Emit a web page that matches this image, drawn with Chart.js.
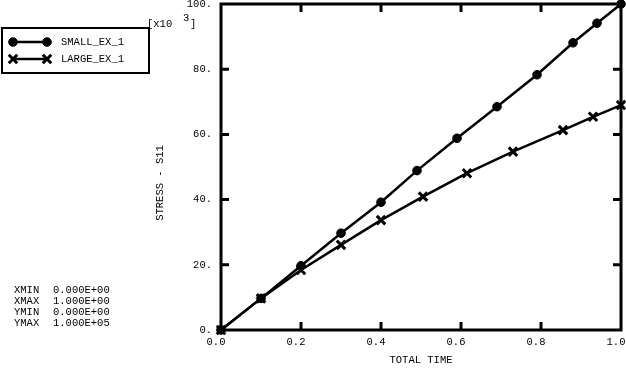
<!DOCTYPE html>
<html>
<head>
<meta charset="utf-8">
<script src="https://cdn.jsdelivr.net/npm/chart.js@4/dist/chart.umd.min.js"></script>
<style>
  body { margin: 0; background: #fff; }
  .chart { width: 626px; height: 368px; position: relative; }
</style>
</head>
<body>
<div class="chart"><canvas id="lineChart"></canvas></div>
<script>
// total time vs stress (S11)
const smallTime = [0, 0.1, 0.2, 0.3, 0.4, 0.49, 0.59, 0.69, 0.79, 0.88, 0.94, 1.0];
const smallStress = [0, 9700, 19700, 29700, 39200, 48900, 58800, 68500, 78300, 88100, 94100, 100000];
const largeTime = [0, 0.1, 0.2, 0.3, 0.4, 0.505, 0.615, 0.73, 0.855, 0.93, 1.0];
const largeStress = [0, 9700, 18400, 26100, 33700, 40900, 48100, 54700, 61300, 65400, 69000];
const xTicks = [0, 0.2, 0.4, 0.6, 0.8, 1.0];
const yTicks = [0, 20000, 40000, 60000, 80000, 100000];
const infoLines = [
  ["XMIN", "0.000E+00"],
  ["XMAX", "1.000E+00"],
  ["YMIN", "0.000E+00"],
  ["YMAX", "1.000E+05"],
];

const FAMILY = "'Liberation Mono', 'DejaVu Sans Mono', monospace";
const FONT = "10.5px " + FAMILY;

const toPoints = (xs, ys) => xs.map((x, i) => ({ x: x, y: ys[i] }));

const noPad = (s) => {
  s.paddingTop = 0;
  s.paddingBottom = 0;
  s.paddingLeft = 0;
  s.paddingRight = 0;
};

const frame = {
  id: "frame",
  beforeDatasetsDraw(chart) {
    const { ctx, chartArea: a, scales } = chart;
    ctx.save();
    ctx.strokeStyle = "#000";
    ctx.lineWidth = 3;
    ctx.strokeRect(a.left, a.top, a.right - a.left, a.bottom - a.top);
    // inward tick marks on all four sides
    const len = 8;
    xTicks.slice(1, -1).forEach((v) => {
      const px = scales.x.getPixelForValue(v);
      ctx.beginPath();
      ctx.moveTo(px, a.bottom); ctx.lineTo(px, a.bottom - len);
      ctx.moveTo(px, a.top); ctx.lineTo(px, a.top + len);
      ctx.stroke();
    });
    yTicks.slice(1, -1).forEach((v) => {
      const py = scales.y.getPixelForValue(v);
      ctx.beginPath();
      ctx.moveTo(a.left, py); ctx.lineTo(a.left + len, py);
      ctx.moveTo(a.right, py); ctx.lineTo(a.right - len, py);
      ctx.stroke();
    });
    ctx.restore();
  },
  afterDraw(chart) {
    const ctx = chart.ctx;
    ctx.save();
    ctx.fillStyle = "#000";
    ctx.strokeStyle = "#000";
    ctx.font = FONT;
    ctx.textBaseline = "middle";

    // legend box
    ctx.lineWidth = 2;
    ctx.strokeRect(2, 28, 147, 45);
    chart.data.datasets.forEach((ds, i) => {
      const y = 42 + i * 17;
      ctx.lineWidth = 2.5;
      ctx.beginPath();
      ctx.moveTo(13, y); ctx.lineTo(47, y);
      ctx.stroke();
      const opts = {
        pointStyle: ds.pointStyle,
        radius: ds.pointRadius,
        borderWidth: ds.pointBorderWidth,
      };
      ctx.fillStyle = "#000";
      ctx.lineWidth = ds.pointBorderWidth;
      Chart.helpers.drawPoint(ctx, opts, 13, y);
      Chart.helpers.drawPoint(ctx, opts, 47, y);
      ctx.textAlign = "left";
      ctx.fillText(ds.label, 61, y);
    });

    // multiplier
    ctx.textAlign = "left";
    ctx.fillText("[x10", 147, 24);
    ctx.fillText("3", 183, 18);
    ctx.fillText("]", 190, 24);

    // y axis title
    ctx.save();
    ctx.translate(160, 183);
    ctx.rotate(-Math.PI / 2);
    ctx.textAlign = "center";
    ctx.fillText("STRESS - S11", 0, 0);
    ctx.restore();

    // range info
    infoLines.forEach((row, i) => {
      const y = 290 + i * 11;
      ctx.textAlign = "left";
      ctx.fillText(row[0], 14, y);
      ctx.fillText(row[1], 53, y);
    });
    ctx.restore();
  },
};

const ctx = document.getElementById("lineChart").getContext("2d");
new Chart(ctx, {
  type: "scatter",
  data: {
    datasets: [
      {
        label: "SMALL_EX_1",
        data: toPoints(smallTime, smallStress),
        showLine: true,
        borderColor: "#000",
        backgroundColor: "#000",
        borderWidth: 2.5,
        pointStyle: "circle",
        pointRadius: 4.3,
        pointBorderWidth: 1,
        clip: false,
      },
      {
        label: "LARGE_EX_1",
        data: toPoints(largeTime, largeStress),
        showLine: true,
        borderColor: "#000",
        backgroundColor: "#000",
        borderWidth: 2.5,
        pointStyle: "crossRot",
        pointRadius: 6,
        pointBorderWidth: 3,
        clip: false,
      },
    ],
  },
  options: {
    responsive: true,
    maintainAspectRatio: false,
    animation: false,
    layout: { autoPadding: false, padding: { top: 4, right: 5, left: 0, bottom: 0 } },
    plugins: {
      legend: { display: false },
      tooltip: { enabled: false },
    },
    scales: {
      x: {
        type: "linear",
        min: 0,
        max: 1,
        afterBuildTicks: (s) => { s.ticks = xTicks.map((v) => ({ value: v })); },
        afterFit: (s) => { s.height = 38; noPad(s); },
        grid: { display: false, drawTicks: false },
        border: { display: false },
        ticks: {
          color: "#000",
          font: { family: FAMILY, size: 10.5 },
          padding: 6,
          labelOffset: -5,
          maxRotation: 0,
          callback: (v) => v.toFixed(1),
        },
        title: {
          display: true,
          text: "TOTAL TIME",
          color: "#000",
          font: { family: FAMILY, size: 10.5 },
          padding: { top: 0, bottom: 1 },
        },
      },
      y: {
        type: "linear",
        min: 0,
        max: 100000,
        afterBuildTicks: (s) => { s.ticks = yTicks.map((v) => ({ value: v })); },
        afterFit: (s) => { s.width = 221; noPad(s); },
        grid: { display: false, drawTicks: false },
        border: { display: false },
        ticks: {
          color: "#000",
          font: { family: FAMILY, size: 10.5 },
          padding: 9,
          callback: (v) => v / 1000 + ".",
        },
      },
    },
  },
  plugins: [frame],
});
</script>
</body>
</html>
